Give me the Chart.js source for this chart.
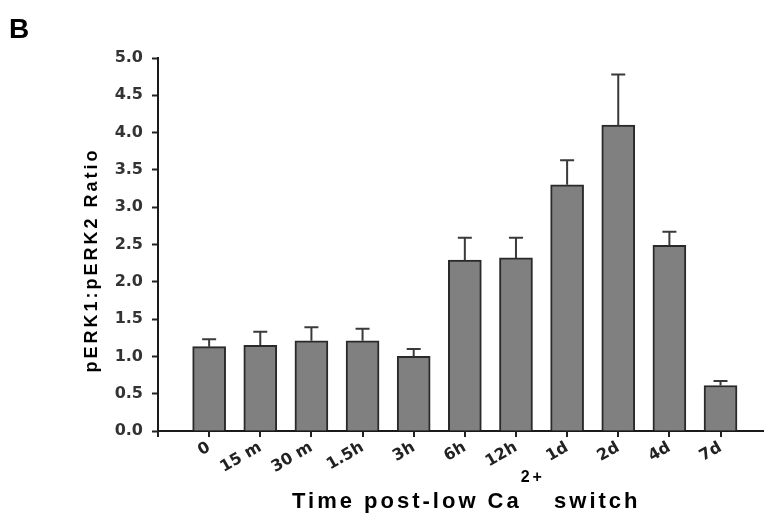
<!DOCTYPE html>
<html>
<head>
<meta charset="utf-8">
<script src="https://cdn.jsdelivr.net/npm/chart.js@4/dist/chart.umd.min.js"></script>
<style>
  html, body { margin: 0; padding: 0; background: #fff; }
  #wrap { width: 764px; height: 514px; position: relative; }
</style>
</head>
<body>
<div id="wrap"><canvas id="chart"></canvas></div>
<script>
// values
const categories = ['0', '15 m', '30 m', '1.5h', '3h', '6h', '12h', '1d', '2d', '4d', '7d'];
const ratio = [1.13, 1.15, 1.21, 1.21, 1.00, 2.29, 2.32, 3.30, 4.10, 2.49, 0.61];
const errs = [0.10, 0.18, 0.18, 0.16, 0.10, 0.30, 0.27, 0.33, 0.68, 0.18, 0.06];
const yTicks = [0, 0.5, 1, 1.5, 2, 2.5, 3, 3.5, 4, 4.5, 5];

// upper error bars + panel letter + axis titles
const extras = {
    id: 'extras',
    afterDatasetsDraw(chart) {
        const ctx = chart.ctx;
        const xs = chart.scales.x, ys = chart.scales.y;
        ctx.save();
        ctx.strokeStyle = '#3a3a3a';
        ctx.lineWidth = 2;
        ratio.forEach((v, i) => {
            const x = xs.getPixelForValue(i);
            const y0 = ys.getPixelForValue(v);
            const y1 = ys.getPixelForValue(v + errs[i]);
            ctx.beginPath();
            ctx.moveTo(x, y0);
            ctx.lineTo(x, y1);
            ctx.moveTo(x - 7, y1);
            ctx.lineTo(x + 7, y1);
            ctx.stroke();
        });
        // x tick marks at each category and at the axis start
        ctx.strokeStyle = '#222';
        ctx.beginPath();
        xs.ticks.forEach(t => {
            const x = Math.round(xs.getPixelForValue(t.value));
            ctx.moveTo(x, ys.bottom);
            ctx.lineTo(x, ys.bottom + 6);
        });
        ctx.stroke();
        ctx.restore();
    },
    afterDraw(chart) {
        const ctx = chart.ctx;
        ctx.save();
        ctx.fillStyle = '#000';
        ctx.font = 'bold 28px "Liberation Sans", Arial';
        ctx.textBaseline = 'alphabetic';
        ctx.fillText('B', 9, 38);

        // y title
        ctx.save();
        ctx.translate(97, 260);
        ctx.rotate(-Math.PI / 2);
        ctx.font = 'bold 18px "Liberation Sans", Arial';
        ctx.letterSpacing = '3px';
        ctx.textAlign = 'center';
        ctx.fillText('pERK1:pERK2 Ratio', 0, 0);
        ctx.restore();

        // x title with superscript
        ctx.letterSpacing = '3px';
        ctx.textAlign = 'left';
        let x = 292;
        const base = 508;
        ctx.font = 'bold 22px "Liberation Sans", Arial';
        ctx.fillText('Time post-low Ca', x, base);
        x += ctx.measureText('Time post-low Ca').width - 1;
        ctx.font = 'bold 16px "Liberation Sans", Arial';
        ctx.fillText('2+', x, base - 26);
        x += ctx.measureText('2+').width;
        ctx.font = 'bold 22px "Liberation Sans", Arial';
        ctx.fillText(' switch', x, base);
        ctx.restore();
    }
};

new Chart(document.getElementById('chart'), {
    type: 'bar',
    data: {
        datasets: [{
            data: categories.map((c, i) => ({ x: i, y: ratio[i] })),
            backgroundColor: '#808080',
            borderColor: '#2a2a2a',
            borderWidth: 2,
            borderSkipped: 'bottom',
            barThickness: 33
        }]
    },
    options: {
        responsive: true,
        maintainAspectRatio: false,
        animation: false,
        layout: { padding: { left: 110, top: 58, right: 0, bottom: 0 } },
        plugins: { legend: { display: false }, tooltip: { enabled: false } },
        scales: {
            x: {
                type: 'linear',
                offset: false,
                bounds: 'data',
                min: -1,
                max: 10.85,
                afterFit: s => { s.height = 83; },
                border: { color: '#1a1a1a', width: 2 },
                grid: { offset: false, drawOnChartArea: false, drawTicks: false },
                ticks: {
                    stepSize: 1,
                    includeBounds: false,
                    autoSkip: false,
                    minRotation: 30,
                    maxRotation: 30,
                    padding: 7,
                    color: '#222',
                    font: { family: 'DejaVu Sans', weight: 'bold', size: 16 },
                    callback: v => (Number.isInteger(v) && v >= 0 && v < categories.length) ? categories[v] : ''
                }
            },
            y: {
                min: 0,
                max: 5,
                afterFit: s => { s.width = 48; },
                afterBuildTicks: s => { s.ticks = yTicks.map(v => ({ value: v })); },
                border: { color: '#1a1a1a', width: 2 },
                grid: { drawOnChartArea: false, tickLength: 6, color: '#222', tickColor: '#222', tickWidth: 2 },
                ticks: {
                    padding: 9,
                    color: '#333',
                    font: { family: 'DejaVu Sans', weight: 'bold', size: 16 },
                    callback: v => v.toFixed(1)
                }
            }
        }
    },
    plugins: [extras]
});
</script>
</body>
</html>
